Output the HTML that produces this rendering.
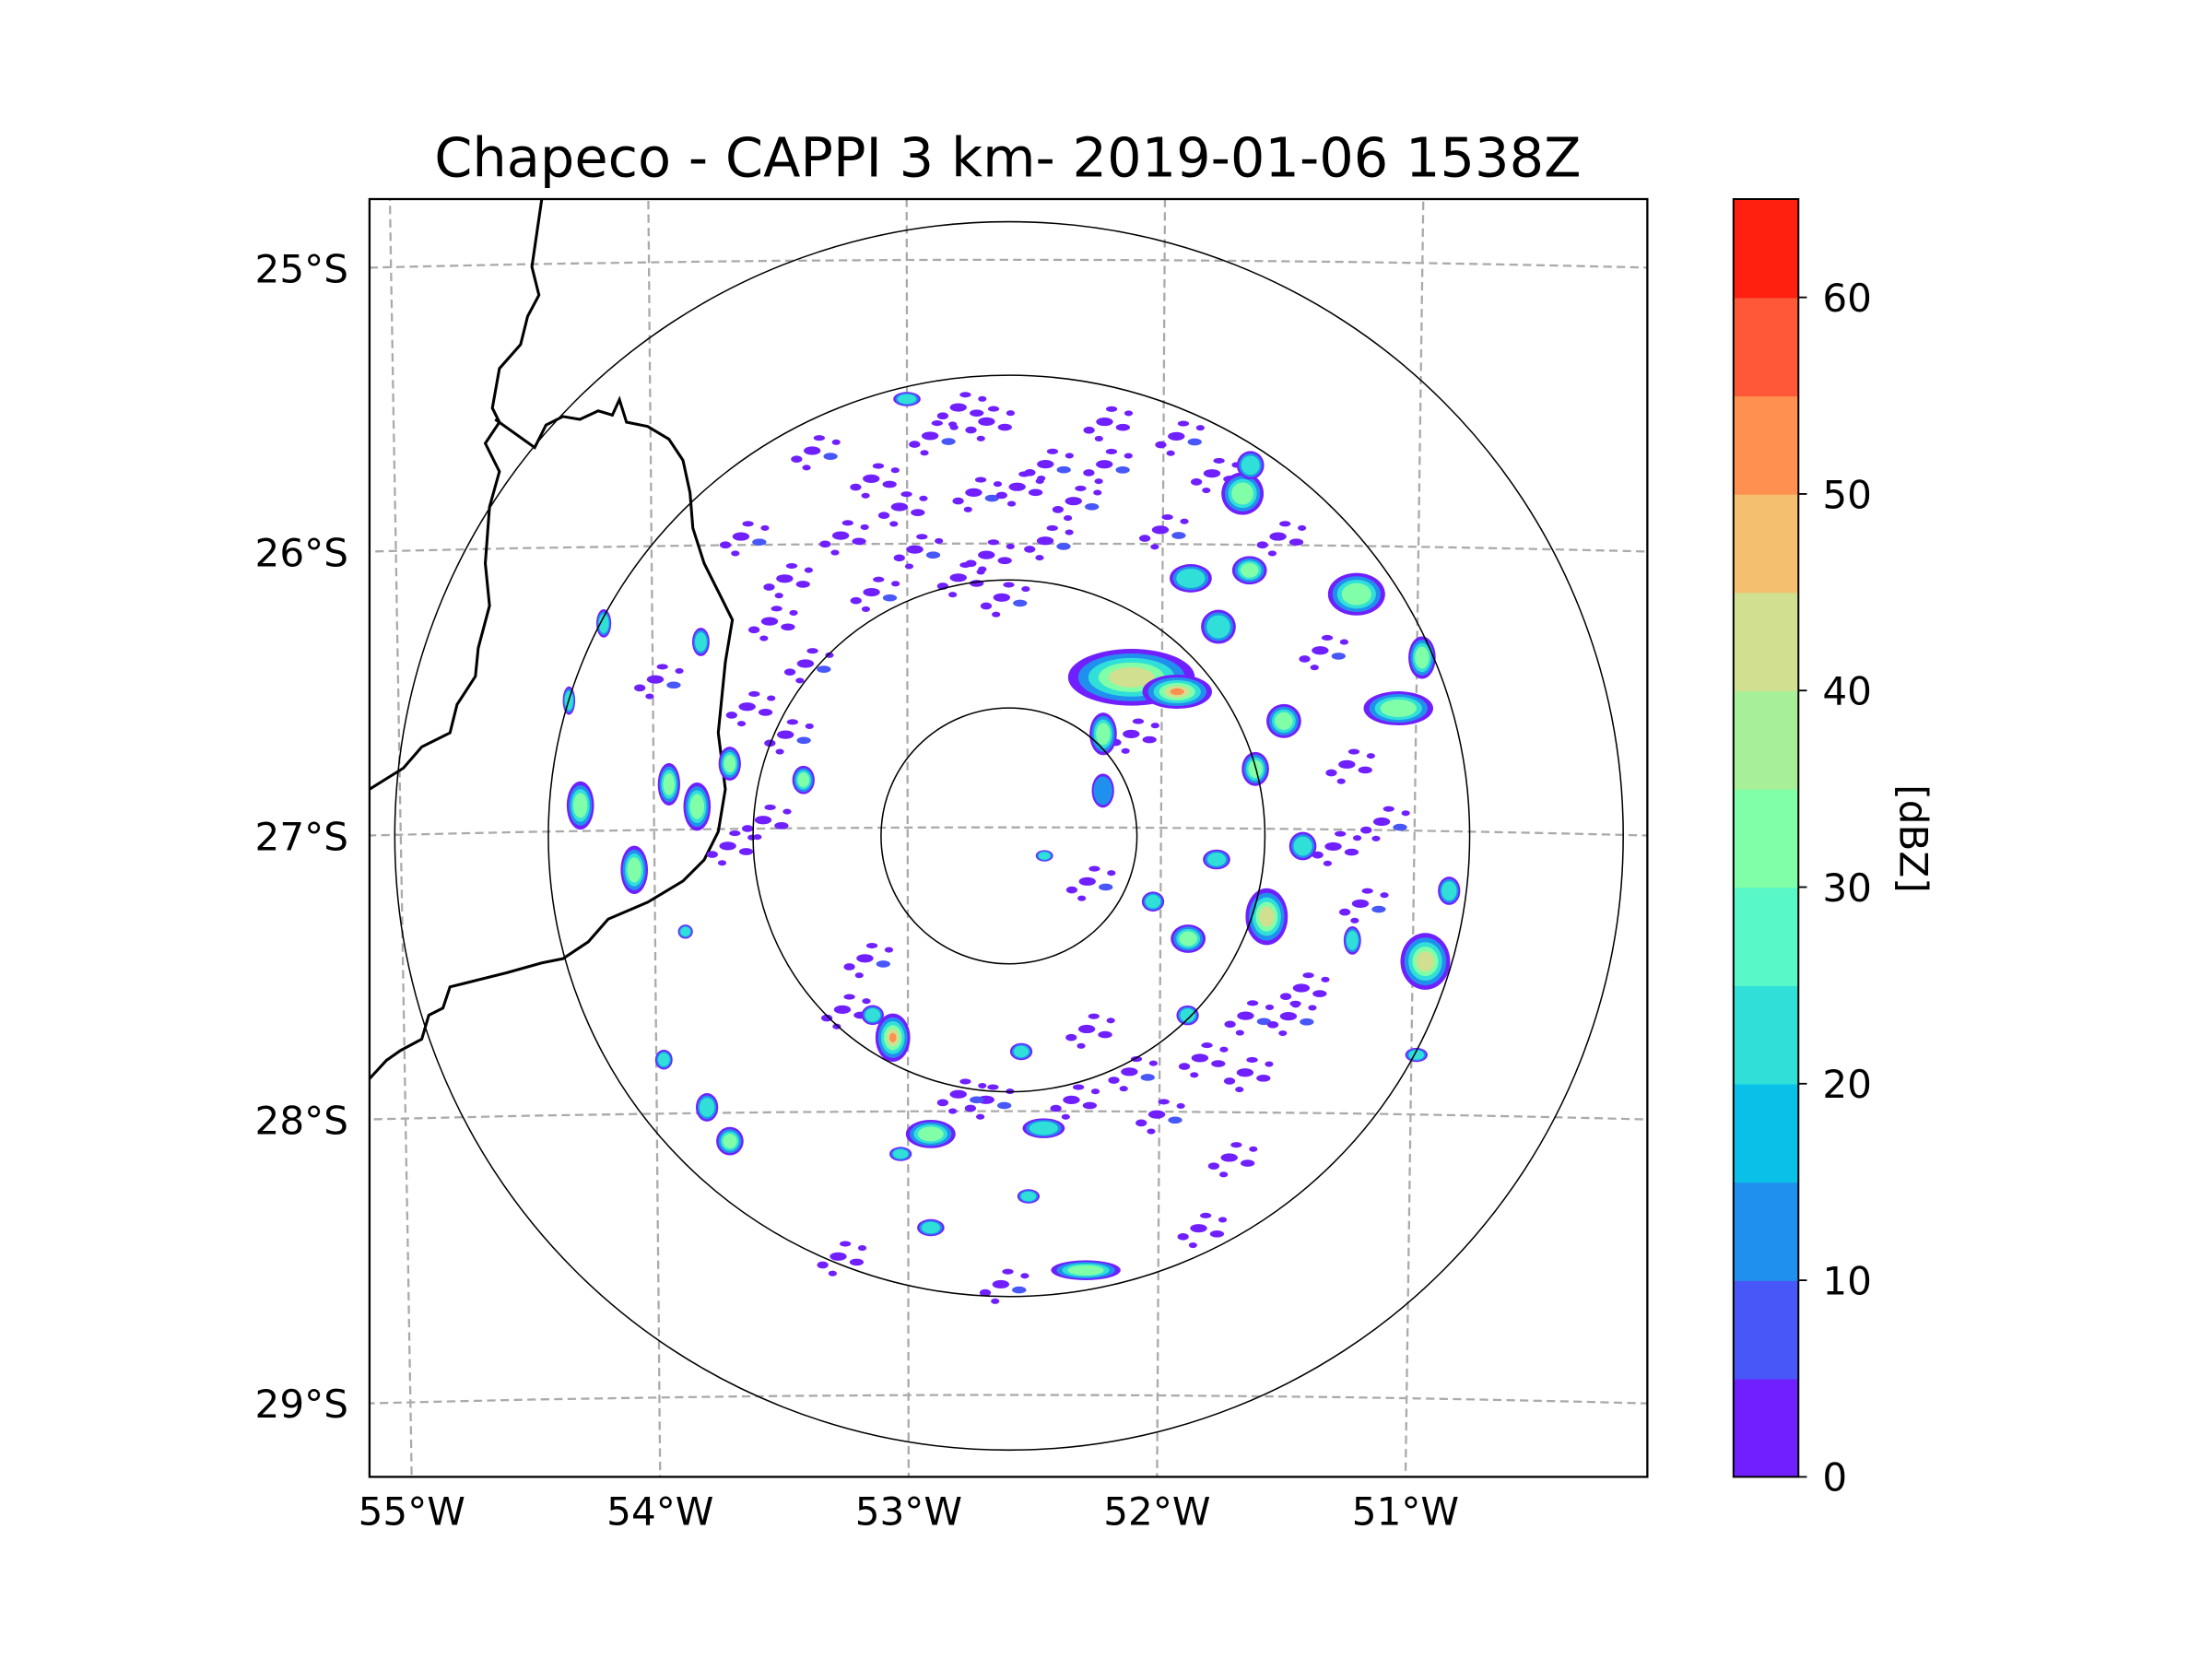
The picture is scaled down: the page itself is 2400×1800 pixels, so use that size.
<!DOCTYPE html>
<html><head><meta charset="utf-8"><style>
html,body{margin:0;padding:0;background:#fff;}
svg{display:block;}
text{font-family:"DejaVu Sans","Liberation Sans",sans-serif;fill:#000;}
</style></head>
<body>
<svg id="fig" width="2400" height="1800" viewBox="1.3 1 1566.6 1175" preserveAspectRatio="none" xmlns="http://www.w3.org/2000/svg">
<rect x="0" y="0" width="1600" height="1200" fill="#fff"/>
<text x="715" y="126" font-size="38.5" text-anchor="middle">Chapeco - CAPPI 3 km- 2019-01-06 1538Z</text>
<defs><clipPath id="clipAx"><rect x="263" y="142" width="905" height="905"/></clipPath></defs>
<g id="grid" clip-path="url(#clipAx)"></g>
<g id="borders" clip-path="url(#clipAx)" fill="none" stroke="#000" stroke-width="2">
<path d="M385,142 L378,190 L383,210 L375,225 L370,245 L355,262 L350,290 L355,300 L345,315 L355,335 L348,360 L345,400 L348,430 L340,460 L338,480 L325,500 L320,520 L300,530 L287,545 L263,560"/>
<path d="M352,298 L380,318 L388,302 L400,296 L412,298 L425,292 L435,295 L440,284 L445,300 L460,303 L475,312 L485,327 L490,350 L492,375 L500,400 L510,420 L520,440 L515,470 L512,500 L510,520 L515,560 L510,590 L500,610 L485,625 L460,640 L432,652 L418,668 L400,680 L385,683 L360,690 L340,695 L320,700 L315,715 L305,720 L300,737 L285,745 L275,752 L263,765"/>
</g>
<g id="echoes" clip-path="url(#clipAx)"></g>
<g id="rings" fill="none" stroke="#000" stroke-width="1"></g>
<rect x="263" y="142" width="905" height="905" fill="none" stroke="#000" stroke-width="1.5"/>
<g id="ticks"></g>
<g id="cbar"></g>
<text transform="translate(1347,595) rotate(90)" font-size="27.5" text-anchor="middle">[dBZ]</text>
</svg>
<script>
// ----- data -----
const lonTicks = [-55, -54, -53, -52, -51];
const lonTickLabels = ["55°W", "54°W", "53°W", "52°W", "51°W"];
const latTicks = [-25, -26, -27, -28, -29];
const latTickLabels = ["25°S", "26°S", "27°S", "28°S", "29°S"];
const ringRadiiKm = [50, 100, 180, 240];
const radarLon = -52.6;
const radarLat = -27.03;
const cbarLevels = [0,5,10,15,20,25,30,35,40,45,50,55,60,65];
const cbarColors = ["#7020ff","#4858f8","#2090ee","#08c0e8","#30e0d8","#58f8c8","#80ffa8","#a8f098","#d0e090","#f4c070","#ff9050","#ff5838","#ff2010"];
const cbarTicks = [0,10,20,30,40,50,60];
// storm cells: lon, lat, size (deg lon, deg lat), peak dBZ
const cellLon = [-52.12,-51.94,-52.23,-51.07,-50.98,-51.69,-51.66,-51.66,-51.24,-51.89,-51.78,-51.52,-51.63,-51.58,-51.89,-50.95,-50.86,-51.44,-51.78,-52.03,-53.06,-53.14,-52.55,-52.91,-52.46,-52.29,-52.91,-53.03,-53.71,-53.80,-53.97,-54.29,-54.08,-53.94,-53.83,-53.70,-53.41,-53.81,-54.19,-54.33,-53.88,-52.46,-52.23,-51.89,-50.98,-53.0,-51.24,-52.52];
const cellLat = [-26.47,-26.52,-26.67,-26.57,-26.39,-25.82,-25.72,-26.09,-26.17,-26.12,-26.29,-26.62,-26.79,-27.31,-27.39,-27.46,-27.21,-27.06,-27.11,-27.26,-27.74,-27.66,-27.79,-28.08,-28.06,-28.56,-28.41,-28.15,-28.10,-27.98,-27.81,-26.91,-27.14,-26.84,-26.92,-26.77,-26.83,-26.34,-26.27,-26.54,-27.36,-27.10,-26.87,-27.66,-27.79,-25.49,-27.39,-28.30];
const cellW = [0.51,0.28,0.11,0.28,0.11,0.17,0.11,0.14,0.23,0.17,0.14,0.14,0.11,0.17,0.14,0.2,0.09,0.11,0.11,0.09,0.14,0.09,0.09,0.2,0.17,0.28,0.11,0.09,0.11,0.09,0.07,0.11,0.11,0.09,0.11,0.09,0.09,0.07,0.06,0.05,0.06,0.07,0.09,0.09,0.09,0.11,0.07,0.09];
const cellH = [0.2,0.12,0.15,0.12,0.15,0.15,0.1,0.1,0.15,0.1,0.12,0.12,0.12,0.2,0.1,0.2,0.1,0.1,0.07,0.07,0.17,0.07,0.06,0.1,0.07,0.07,0.06,0.05,0.1,0.1,0.07,0.17,0.17,0.15,0.17,0.12,0.1,0.1,0.1,0.1,0.05,0.04,0.12,0.07,0.05,0.05,0.1,0.05];
const cellDbz = [45,50,30,35,30,30,25,30,30,25,25,30,30,40,35,45,25,25,25,20,50,25,25,30,25,35,25,25,30,25,20,35,35,35,35,30,30,25,20,20,20,20,15,25,20,25,20,20];
// weak speckle echoes (lon, lat)
const speckLon = [-53.37,-53.14,-52.91,-52.69,-52.46,-53.03,-52.74,-52.57,-52.35,-53.26,-52.97,-52.69,-52.46,-53.48,-53.14,-52.80,-52.63,-53.54,-53.40,-53.63,-53.65,-52.23,-51.95,-51.81,-52.01,-51.55,-51.38,-51.27,-51.13,-51.32,-51.21,-51.44,-51.66,-51.84,-52.12,-52.29,-52.69,-52.35,-52.01,-51.66,-51.49,-51.72,-52.80,-53.26,-53.17,-53.28,-52.63,-51.84,-52.29,-53.71,-53.99,-53.57,-53.48,-52.12,-52.23,-52.80];
const speckLat = [-25.67,-25.77,-25.62,-25.57,-25.72,-25.87,-25.82,-25.80,-25.85,-25.97,-26.02,-26.04,-25.99,-26.12,-26.17,-26.12,-26.19,-26.27,-26.42,-26.57,-25.97,-25.57,-25.62,-25.75,-25.95,-25.97,-26.37,-26.77,-26.97,-27.06,-27.26,-27.56,-27.66,-27.81,-27.86,-27.71,-27.96,-27.96,-28.01,-27.86,-27.66,-28.16,-27.94,-27.64,-27.46,-28.51,-28.61,-28.41,-27.19,-27.06,-26.47,-26.97,-26.67,-26.67,-25.72,-25.52];

// ----- axis functions -----
const NS = "http://www.w3.org/2000/svg";
const latScale = 201;
function lonScaleAt(lat){ return 179.5 * (1 + 0.0087*(lat + 27)); }
function xOf(lon, lat){ const la = (lat===undefined? -27 : lat); return 680 + (lon + 52.8) * lonScaleAt(la); }
function yOf(lat, lon){ const l = lon===undefined? radarLon : lon; return 587 - (lat + 27) * latScale + 0.9*Math.pow(l - radarLon,2); }
function mk(tag, attrs, parent){ const e=document.createElementNS(NS,tag); for(const k in attrs) e.setAttribute(k, attrs[k]); parent.appendChild(e); return e; }
function colorOf(v){ let i=Math.floor(v/5); if(i<0)i=0; if(i>12)i=12; return cbarColors[i]; }

// gridlines
const grid = document.getElementById('grid');
lonTicks.forEach(function(lon){
  let d=""; for(let lat=-24.5; lat>=-29.5; lat-=0.25){ d += (d?"L":"M") + xOf(lon,lat).toFixed(1)+","+yOf(lat,lon).toFixed(1); }
  const p = mk('path',{d:d,fill:'none',stroke:'#aaaaaa','stroke-width':1.5,'stroke-dasharray':'6,3.5'},grid);
  
  
});
latTicks.forEach(function(lat){
  let d=""; for(let lon=-55.5; lon<=-49.8; lon+=0.25){ d += (d?"L":"M") + xOf(lon,lat).toFixed(1)+","+yOf(lat,lon).toFixed(1); }
  const p = mk('path',{d:d,fill:'none',stroke:'#aaaaaa','stroke-width':1.5,'stroke-dasharray':'6,3.5'},grid);
  
  
});

// tick labels
const ticks = document.getElementById('ticks');
lonTicks.forEach(function(lon,i){
  const t = mk('text',{x:xOf(lon,-29.28),y:1081,'font-size':27.5,'text-anchor':'middle'},ticks);
  t.textContent = lonTickLabels[i];
  
  
});
latTicks.forEach(function(lat,i){
  const t = mk('text',{x:248,y:yOf(lat,-55.2)+10,'font-size':27.5,'text-anchor':'end'},ticks);
  t.textContent = latTickLabels[i];
  
  
});

// echoes
const echoes = document.getElementById('echoes');
const offs = [[0,0,6,3],[13,4,5,2.5],[-11,6,4,2.5],[5,-9,4,2],[-4,12,3,2],[17,-6,3,2]];
speckLon.forEach(function(lon,i){
  const cx=xOf(lon,speckLat[i]), cy=yOf(speckLat[i],lon);
  offs.forEach(function(o,k){
    const e = mk('ellipse',{cx:cx+o[0],cy:cy+o[1],rx:o[2],ry:o[3],fill:(k===1&&i%2===0)?cbarColors[1]:cbarColors[0]},echoes);
    
    
  });
});
cellLon.forEach(function(lon,i){
  const cx=xOf(lon,cellLat[i]), cy=yOf(cellLat[i],lon);
  const rx=cellW[i]*176/2, ry=cellH[i]*latScale/2;
  const g = mk('g',{},echoes);
  
  
  const lv=[0,10,20,30,40,50,60];
  lv.forEach(function(l,k){
    if(l>cellDbz[i]) return;
    const s = 1 - k*0.16;
    const e = mk('ellipse',{cx:cx,cy:cy,rx:Math.max(1,rx*s),ry:Math.max(1,ry*s),fill:colorOf(l+2)},g);
    
    
  });
});

// range rings
const rings = document.getElementById('rings');
const pxPerKm = 435/240;
ringRadiiKm.forEach(function(r){
  const c = mk('circle',{cx:xOf(radarLon), cy:yOf(radarLat), r:r*pxPerKm},rings);
  
  
});

// colorbar
const cbar = document.getElementById('cbar');
const cbTop=142, cbBot=1047, cbX=1229, cbW=46;
function cbY(v){ return cbBot - (v - cbarLevels[0])/(cbarLevels[cbarLevels.length-1]-cbarLevels[0])*(cbBot-cbTop); }
cbarColors.forEach(function(c,i){
  const r = mk('rect',{x:cbX,y:cbY(cbarLevels[i+1]),width:cbW,height:cbY(cbarLevels[i])-cbY(cbarLevels[i+1])+0.5,fill:c},cbar);
  
  
});
const fr = mk('rect',{x:cbX,y:cbTop,width:cbW,height:cbBot-cbTop,fill:'none',stroke:'#000','stroke-width':1.3},cbar);


cbarTicks.forEach(function(v){
  const y=cbY(v);
  const l = mk('line',{x1:cbX+cbW,x2:cbX+cbW+6,y1:y,y2:y,stroke:'#000','stroke-width':1.2},cbar);
  
  
  const t = mk('text',{x:cbX+cbW+17,y:y+10,'font-size':27.5},cbar);
  t.textContent = String(v);
  
  
});
</script>
</body></html>
